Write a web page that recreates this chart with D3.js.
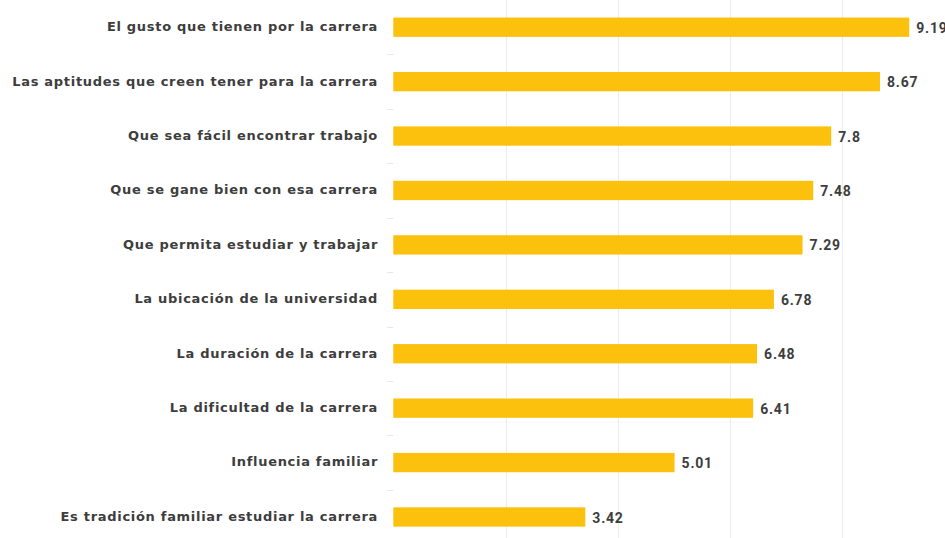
<!DOCTYPE html>
<html>
<head>
<meta charset="utf-8">
<script src="https://cdn.jsdelivr.net/npm/d3@7"></script>
<style>
  body { margin: 0; background: #fff; }
  .label { font-family: "DejaVu Sans", sans-serif; font-weight: bold; font-size: 13px; fill: #3d3d3d; letter-spacing: 0.7px; }
  .value { font-family: Roboto, sans-serif; font-weight: bold; font-size: 14px; fill: #3d3d3d; letter-spacing: 0.8px; }
</style>
</head>
<body>
<div class="chart"></div>
<script>
var categories = [
  "El gusto que tienen por la carrera",
  "Las aptitudes que creen tener para la carrera",
  "Que sea fácil encontrar trabajo",
  "Que se gane bien con esa carrera",
  "Que permita estudiar y trabajar",
  "La ubicación de la universidad",
  "La duración de la carrera",
  "La dificultad de la carrera",
  "Influencia familiar",
  "Es tradición familiar estudiar la carrera"
];
var values = [9.19, 8.67, 7.8, 7.48, 7.29, 6.78, 6.48, 6.41, 5.01, 3.42];
var gridTicks = [2, 4, 6, 8, 10];

var width = 945, height = 538;

var svg = d3.select(".chart")
    .append("svg")
    .attr("width", width)
    .attr("height", height);

// axis sits at 393, 10 falls just outside the frame
var x = d3.scaleLinear()
    .domain([0, 10])
    .range([393.3, 954.7]);

var y = d3.scaleBand()
    .domain(categories)
    .range([0, 544.2])
    .paddingInner(0.645)
    .paddingOuter(0.3225);

// vertical grid
svg.append("g")
    .attr("class", "grid")
  .selectAll("line")
    .data(gridTicks)
  .enter().append("line")
    .attr("x1", function(d){ return Math.round(x(d)) + 0.5 })
    .attr("x2", function(d){ return Math.round(x(d)) + 0.5 })
    .attr("y1", 0)
    .attr("y2", height)
    .style("stroke", "#ececec")
    .style("stroke-width", 1);

// little ticks between categories
var gap = (y.step() - y.bandwidth()) / 2;
svg.append("g")
    .attr("class", "cat-ticks")
  .selectAll("line")
    .data(categories.slice(1))
  .enter().append("line")
    .attr("x1", x(0) - 6)
    .attr("x2", x(0))
    .attr("y1", function(d){ return Math.round(y(d) - gap) + 0.5 })
    .attr("y2", function(d){ return Math.round(y(d) - gap) + 0.5 })
    .style("stroke", "#e6e6e6")
    .style("stroke-width", 1);

svg.append("g")
    .attr("class", "bars")
  .selectAll("rect")
    .data(values)
  .enter().append("rect")
    .attr("x", x(0))
    .attr("y", function(d, i){ return y(categories[i]) })
    .attr("width", function(d){ return x(d) - x(0) })
    .attr("height", y.bandwidth())
    .style("fill", "#fcc10d");

svg.append("g")
    .attr("class", "values")
  .selectAll("text")
    .data(values)
  .enter().append("text")
    .attr("class", "value")
    .attr("x", function(d){ return x(d) + 7 })
    .attr("y", function(d, i){ return y(categories[i]) + y.bandwidth() / 2 })
    .attr("dy", "0.4em")
    .text(function(d){ return d });

svg.append("g")
    .attr("class", "labels")
  .selectAll("text")
    .data(categories)
  .enter().append("text")
    .attr("class", "label")
    .attr("x", 378)
    .attr("y", function(d){ return y(d) + y.bandwidth() / 2 })
    .attr("dy", "0.3em")
    .attr("text-anchor", "end")
    .text(function(d){ return d });
</script>
</body>
</html>
